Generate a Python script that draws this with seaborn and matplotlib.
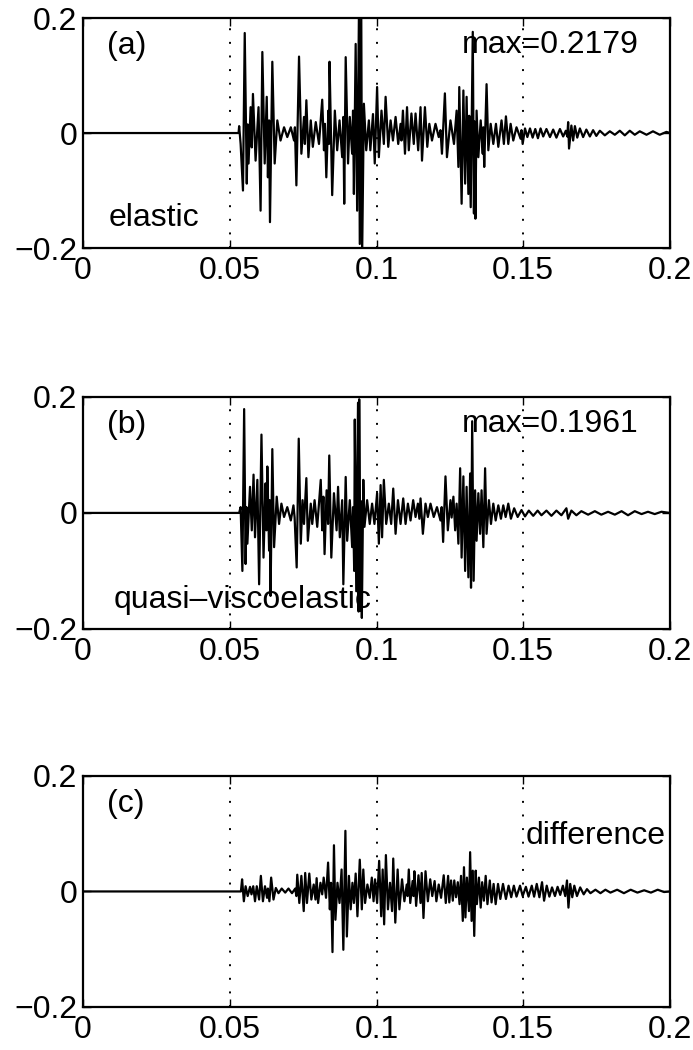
import matplotlib
matplotlib.use("Agg")
import matplotlib.pyplot as plt
import numpy as np
import pandas as pd
import seaborn as sns

# traces: time in ms, amplitude in units of 1e-3
t_elastic = [
    0, 53.0, 53.2, 53.7, 54.5, 55.1, 55.8, 56.1, 56.4, 57.1,
    57.5, 57.9, 58.8, 59.8, 60.5, 61.1, 61.9, 62.6, 63.0, 63.4,
    63.7, 64.5, 65.3, 66.2, 67.3, 68.5, 69.6, 70.8, 71.9, 72.2,
    72.7, 73.6, 74.4, 75.3, 75.6, 76.1, 76.8, 77.6, 78.3, 79.3,
    80.4, 81.5, 82.1, 82.4, 82.9, 83.6, 83.8, 84.0, 84.9, 85.8,
    86.6, 87.4, 88.3, 88.7, 89.0, 89.5, 90.3, 90.9, 91.7, 92.0,
    92.3, 92.9, 93.4, 94.0, 94.3, 94.8, 95.1, 95.7, 96.5, 97.4,
    97.9, 98.8, 99.4, 100.2, 100.8, 101.7, 102.5, 103.1, 104.0, 104.8,
    105.6, 106.5, 107.4, 108.2, 108.5, 109.0, 109.7, 110.4, 111.0, 111.9,
    112.7, 113.3, 114.2, 115.0, 115.5, 116.5, 117.3, 118.0, 118.9, 120.1,
    121.2, 121.8, 122.3, 123.3, 124.0, 125.2, 126.4, 127.3, 127.9, 128.2,
    129.0, 129.6, 130.2, 130.7, 131.3, 131.6, 132.1, 132.8, 133.2, 133.4,
    133.7, 134.1, 134.7, 135.5, 136.2, 136.4, 136.7, 137.5, 138.1, 138.9,
    139.8, 140.7, 141.5, 142.6, 143.4, 144.1, 144.9, 145.7, 146.6, 147.7,
    149.1, 149.4, 149.8, 150.6, 151.4, 152.3, 153.2, 154.1, 155.0, 155.9,
    156.8, 157.9, 159.1, 160.2, 161.3, 162.5, 163.6, 164.5, 165.0, 165.3,
    165.6, 166.4, 167.0, 167.6, 168.4, 169.3, 170.4, 171.5, 172.7, 173.8,
    174.9, 176.1, 177.8, 179.5, 181.2, 182.9, 184.6, 186.3, 188.0, 189.7,
    192.0, 194.2, 196.5, 198.8, 200.0]
u_elastic = [
    0, 0, 12, -19, -100, 174, -88, 15, -53, 45,
    -25, 68, -48, 45, -135, 141, -53, 63, -77, 22,
    -155, 124, -53, 22, -13, 10, -7, 10, -13, 10,
    -91, 133, -36, 28, -19, 57, -42, 22, -24, 19,
    -19, 58, -30, 16, -77, 39, -19, 124, -108, 39,
    -30, 22, -42, 28, -123, 132, -53, 28, -36, 39,
    -106, 155, -135, 202, -193, 218, -215, 51, -30, 22,
    -30, 33, -53, 80, -42, 39, -19, 63, -24, 22,
    -13, 28, -19, 16, -13, 39, -36, 45, -30, 34,
    -19, 34, -30, 45, -48, 45, -24, 16, -13, 16,
    -7, 5, -36, 69, -42, 22, -19, 39, -59, 80,
    -123, 74, -88, 63, -106, 30, -129, 176, -140, 20,
    -149, 39, -42, 22, -36, 10, -59, 85, -30, 16,
    -19, 16, -24, 22, -19, 29, -19, 16, -13, 10,
    -10, 5, -19, 8, -7, 8, -8, 7, -9, 8,
    -6, 7, -7, 6, -8, 7, -6, 4, -6, 19,
    -27, 13, -13, 12, -8, 8, -7, 6, -6, 5,
    -5, 4, -4, 3, -3, 4, -4, 4, -3, 3,
    -3, 3, -3, 2, 0]

t_quasi = [
    0, 53.2, 53.7, 54.3, 54.9, 55.4, 55.7, 56.0, 56.9, 57.5,
    58.1, 58.6, 59.4, 60.0, 60.8, 61.5, 62.2, 62.5, 62.8, 63.4,
    63.6, 63.9, 64.5, 65.1, 66.0, 66.8, 67.6, 68.5, 69.6, 70.8,
    71.7, 72.1, 72.8, 73.5, 74.2, 74.8, 75.3, 76.1, 76.6, 77.6,
    78.1, 78.9, 79.8, 81.0, 81.5, 81.9, 82.3, 83.0, 83.5, 83.9,
    84.6, 85.5, 86.4, 86.9, 87.5, 88.3, 88.7, 89.5, 90.0, 90.9,
    91.7, 92.0, 92.4, 92.6, 93.1, 93.7, 93.9, 94.1, 94.6, 94.8,
    95.0, 95.5, 95.9, 96.8, 97.7, 98.5, 99.3, 100.2, 100.8, 101.4,
    101.9, 102.5, 103.3, 104.2, 105.0, 105.7, 106.5, 107.3, 108.2, 109.1,
    109.9, 110.7, 111.6, 112.5, 113.3, 114.1, 114.6, 115.0, 115.8, 116.7,
    117.5, 118.4, 119.5, 120.6, 121.8, 122.2, 122.7, 123.5, 124.3, 125.2,
    125.6, 126.2, 126.8, 127.3, 127.9, 128.5, 129.0, 129.6, 130.2, 130.7,
    131.3, 131.9, 132.2, 132.6, 133.1, 133.6, 134.1, 134.7, 135.3, 135.8,
    136.4, 137.0, 137.5, 138.3, 139.0, 139.8, 140.6, 141.5, 142.4, 143.2,
    144.0, 144.9, 145.8, 146.9, 148.1, 149.4, 150.6, 151.9, 153.4, 154.9,
    156.2, 157.9, 159.6, 161.3, 163.0, 164.7, 165.3, 166.4, 168.1, 169.8,
    172.1, 174.4, 176.6, 178.9, 181.2, 183.5, 185.7, 188.0, 190.3, 192.5,
    194.8, 197.1, 200.0]
u_quasi = [
    0, 0, 10, -100, 179, -88, 10, -53, 45, -30,
    66, -42, 57, -123, 135, -77, 51, -30, 80, -65,
    22, -143, 110, -59, 28, -19, 16, -7, 10, -13,
    13, -8, -94, 128, -53, 22, -19, 60, -48, 16,
    -19, 22, -24, 57, -30, 28, -71, 39, -19, 99,
    -77, 34, -30, 45, -42, 22, -123, 62, -48, 22,
    -59, 10, -100, 161, -135, 190, -170, 196, -169, 20,
    -181, 57, -24, 22, -19, 16, -19, 34, -53, 48,
    -42, 57, -19, 16, -19, 42, -36, 22, -19, 25,
    -19, 16, -13, 22, -7, 16, -10, 25, -36, 16,
    -7, 16, -7, 10, -13, 10, -50, 63, -30, 22,
    -8, 28, -30, 16, -53, 77, -77, 63, -100, 45,
    -111, 68, -129, 158, -117, 39, -48, 34, -36, 39,
    -59, 77, -36, 22, -19, 16, -13, 13, -10, 13,
    -7, 16, -10, 8, -7, 5, -6, 4, -5, 4,
    -4, 4, -5, 4, -4, 8, -10, 4, -4, 3,
    -3, 3, -3, 2, -3, 3, -4, 3, -2, 2,
    -2, 2, 0]

t_diff = [
    0, 53.8, 54.2, 54.8, 55.4, 56.1, 56.9, 57.4, 58.0, 58.6,
    59.2, 60.0, 60.6, 61.3, 62.0, 62.7, 63.0, 63.5, 64.1, 64.9,
    65.7, 66.6, 67.7, 68.9, 70.0, 71.2, 72.3, 72.7, 73.0, 73.7,
    74.4, 75.2, 75.7, 76.3, 77.1, 77.8, 78.6, 79.2, 79.6, 80.1,
    80.9, 81.5, 82.0, 82.8, 83.5, 84.1, 84.5, 85.0, 85.5, 86.0,
    86.7, 87.4, 88.1, 88.7, 89.4, 89.9, 90.6, 91.2, 91.8, 92.3,
    92.9, 93.5, 94.3, 95.0, 95.5, 96.1, 96.9, 97.7, 98.4, 99.0,
    99.5, 100.2, 100.9, 101.6, 102.1, 102.6, 103.2, 103.9, 104.6, 105.3,
    105.7, 106.4, 107.2, 107.8, 108.7, 109.5, 110.3, 110.6, 111.0, 111.5,
    112.3, 112.6, 112.9, 113.5, 114.3, 115.0, 115.4, 116.0, 116.7, 117.5,
    118.3, 119.0, 119.8, 120.4, 121.2, 122.0, 122.9, 123.6, 124.4, 124.8,
    125.4, 126.0, 126.5, 127.1, 127.7, 128.3, 128.8, 129.4, 129.8, 130.3,
    130.8, 131.5, 131.9, 132.4, 132.8, 133.3, 133.8, 134.2, 134.9, 135.5,
    136.0, 136.6, 137.2, 137.8, 138.6, 139.2, 139.9, 140.6, 141.4, 142.2,
    143.1, 144.1, 145.0, 145.9, 146.8, 147.7, 148.9, 149.8, 150.9, 151.8,
    152.9, 153.7, 154.6, 155.5, 156.4, 157.1, 158.0, 158.9, 159.8, 160.8,
    161.7, 162.6, 163.5, 164.3, 164.9, 165.4, 166.0, 166.7, 167.4, 168.3,
    169.4, 170.6, 171.7, 172.9, 174.6, 176.3, 178.0, 179.7, 182.0, 184.3,
    186.6, 188.9, 191.2, 193.5, 195.8, 198.0, 200.0]
u_diff = [
    0, 0, 21, -17, 9, -8, 8, -5, 9, -17,
    9, -14, 27, -17, 9, -11, 5, -17, 24, -14,
    6, -3, 5, -2, 5, -3, 5, -8, 29, -20,
    27, -34, 32, -20, 31, -14, 12, -14, 23, -20,
    15, -5, 24, -11, 50, -31, 15, -105, 80, -49,
    15, -20, 38, -101, 105, -78, 27, -31, 15, -20,
    31, -43, 55, -31, 38, -20, 12, -11, 24, -17,
    21, -20, 53, -43, 38, -57, 63, -31, 15, -34,
    57, -54, 38, -31, 21, -17, 12, -8, 38, -20,
    18, -8, 35, -25, 28, -20, 32, -46, 35, -17,
    21, -8, 18, -17, 12, -11, 28, -20, 27, -19,
    19, -16, 19, -10, 16, -22, 27, -51, 42, -45,
    24, -34, 68, -51, 36, -77, 36, -22, 24, -28,
    16, -16, 27, -22, 19, -19, 13, -22, 13, -13,
    13, -13, 10, -10, 10, -9, 10, -8, 8, -9,
    10, -9, 13, -10, 16, -16, 10, -9, 7, -8,
    8, -6, 10, -8, 19, -28, 13, -10, 10, -8,
    7, -5, 4, -3, 3, -3, 3, -2, 3, -3,
    3, -2, 2, -2, 3, -1, 0]

panel_tags = ["(a)", "(b)", "(c)"]
max_labels = ["max=0.2179", "max=0.1961", None]
trace_names = ["elastic", "quasi\u2013viscoelastic", "difference"]
x_ticks = [0, 0.05, 0.1, 0.15, 0.2]
x_ticklabels = ["0", "0.05", "0.1", "0.15", "0.2"]
y_ticks = [-0.2, 0, 0.2]
y_ticklabels = ["\u22120.2", "0", "0.2"]

traces = [(t_elastic, u_elastic), (t_quasi, u_quasi), (t_diff, u_diff)]

sns.set_style("ticks")
plt.rcParams['font.family'] = ['Liberation Sans', 'DejaVu Sans']
plt.rcParams['text.color'] = 'black'
plt.rcParams['xtick.color'] = 'black'
plt.rcParams['ytick.color'] = 'black'

fig = plt.figure(figsize=(6.93, 10.5), dpi=100)
boxes = [[0.1198, 0.7638, 0.847, 0.219],
         [0.1198, 0.401, 0.847, 0.221],
         [0.1198, 0.041, 0.847, 0.220]]
name_pos = [(0.043, 0.13), (0.052, 0.125), (0.754, 0.74)]
fs = 23

for i, (tt, uu) in enumerate(traces):
    assert len(tt) == len(uu)
    ax = fig.add_axes(boxes[i])
    df = pd.DataFrame({"t": np.array(tt) / 1000.0, "u": np.array(uu) / 1000.0})
    sns.lineplot(data=df, x="t", y="u", ax=ax, color="k", linewidth=1.6,
                 estimator=None, sort=False)
    for xv in [0.05, 0.1, 0.15]:
        ax.axvline(xv, color="k", linestyle=(0, (1, 6)), linewidth=1.4, zorder=0)
    ax.set_xlim(0, 0.2)
    ax.set_ylim(-0.2, 0.2)
    ax.set_xticks(x_ticks)
    ax.set_xticklabels(x_ticklabels)
    ax.set_yticks(y_ticks)
    ax.set_yticklabels(y_ticklabels)
    ax.set_xlabel("")
    ax.set_ylabel("")
    ax.tick_params(direction="in", length=6, width=1, top=True, right=True,
                   labelsize=fs, colors="k")
    ax.tick_params(axis="x", pad=6)
    ax.tick_params(axis="y", pad=4)
    for sp in ax.spines.values():
        sp.set_linewidth(1.6)
        sp.set_color("k")
    ax.text(0.040, 0.88, panel_tags[i], transform=ax.transAxes,
            fontsize=fs, va="center", ha="left", color="k")
    if max_labels[i]:
        ax.text(0.646, 0.885, max_labels[i], transform=ax.transAxes,
                fontsize=fs, va="center", ha="left", color="k")
    ax.text(name_pos[i][0], name_pos[i][1], trace_names[i], transform=ax.transAxes,
            fontsize=fs, va="center", ha="left", color="k")

fig.savefig("out.png", dpi=100, facecolor="white")
